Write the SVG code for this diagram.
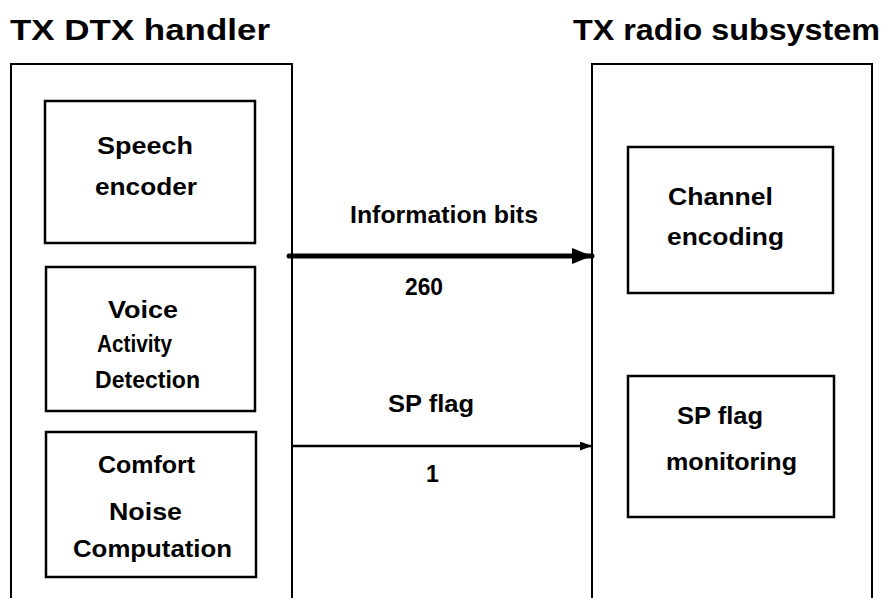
<svg xmlns="http://www.w3.org/2000/svg" width="894" height="598" viewBox="0 0 894 598">
<style>
  .frame{fill:none;stroke:#000;stroke-width:2}
  .box{fill:#fff;stroke:#000;stroke-width:2.5}
  .title{font-family:"Liberation Sans",Arial,sans-serif;font-size:30px;font-weight:bold;fill:#000}
  .lbl{font-family:"Liberation Sans",Arial,sans-serif;font-size:23px;font-weight:bold;fill:#000}
</style>
<defs>
  <marker id="bigHead" markerUnits="userSpaceOnUse" markerWidth="20" markerHeight="16" refX="20" refY="8" orient="auto">
    <path d="M0,0 L20,8 L0,16 Z" fill="#000"/>
  </marker>
  <marker id="smallHead" markerUnits="userSpaceOnUse" markerWidth="12" markerHeight="9" refX="12" refY="4.5" orient="auto">
    <path d="M0,0 L12,4.5 L0,9 Z" fill="#000"/>
  </marker>
</defs>
<rect width="894" height="598" fill="#fff"/>

<g id="tx-dtx-handler">
  <text class="title" x="10" y="40" textLength="260" lengthAdjust="spacingAndGlyphs">TX DTX handler</text>
  <path class="frame" d="M11,600 V64 H292 V600"/>
</g>
<g id="tx-radio-subsystem">
  <text class="title" x="573" y="40" textLength="307" lengthAdjust="spacingAndGlyphs">TX radio subsystem</text>
  <path class="frame" d="M592,600 V64 H872 V600"/>
</g>

<g id="speech-encoder">
  <rect class="box" x="45" y="101" width="210" height="142"/>
  <text class="lbl" x="97" y="154" textLength="96" lengthAdjust="spacingAndGlyphs">Speech</text>
  <text class="lbl" x="95" y="195" textLength="102" lengthAdjust="spacingAndGlyphs">encoder</text>
</g>
<g id="voice-activity-detection">
  <rect class="box" x="46" y="267" width="209" height="144"/>
  <text class="lbl" x="108" y="318" textLength="70" lengthAdjust="spacingAndGlyphs">Voice</text>
  <text class="lbl" x="97" y="352" textLength="75" lengthAdjust="spacingAndGlyphs">Activity</text>
  <text class="lbl" x="95" y="388" textLength="105" lengthAdjust="spacingAndGlyphs">Detection</text>
</g>
<g id="comfort-noise-computation">
  <rect class="box" x="46" y="432" width="210" height="145"/>
  <text class="lbl" x="98" y="473" textLength="97" lengthAdjust="spacingAndGlyphs">Comfort</text>
  <text class="lbl" x="109" y="520" textLength="73" lengthAdjust="spacingAndGlyphs">Noise</text>
  <text class="lbl" x="73" y="557" textLength="159" lengthAdjust="spacingAndGlyphs">Computation</text>
</g>
<g id="channel-encoding">
  <rect class="box" x="628" y="147" width="205" height="146"/>
  <text class="lbl" x="668" y="205" textLength="105" lengthAdjust="spacingAndGlyphs">Channel</text>
  <text class="lbl" x="667" y="245" textLength="117" lengthAdjust="spacingAndGlyphs">encoding</text>
</g>
<g id="sp-flag-monitoring">
  <rect class="box" x="628" y="376" width="206" height="141"/>
  <text class="lbl" x="677" y="424" textLength="86" lengthAdjust="spacingAndGlyphs">SP flag</text>
  <text class="lbl" x="666" y="470" textLength="131" lengthAdjust="spacingAndGlyphs">monitoring</text>
</g>

<g id="connectors">
  <line x1="289" y1="256" x2="592" y2="256" stroke="#000" stroke-width="5" stroke-linecap="round" marker-end="url(#bigHead)"/>
  <text class="lbl" x="350" y="223" textLength="188" lengthAdjust="spacingAndGlyphs">Information bits</text>
  <text class="lbl" x="405" y="295" textLength="38" lengthAdjust="spacingAndGlyphs">260</text>
  <line x1="292" y1="446" x2="592" y2="446" stroke="#000" stroke-width="2.5" marker-end="url(#smallHead)"/>
  <text class="lbl" x="388" y="412" textLength="86" lengthAdjust="spacingAndGlyphs">SP flag</text>
  <text class="lbl" x="426" y="482">1</text>
</g>
</svg>
